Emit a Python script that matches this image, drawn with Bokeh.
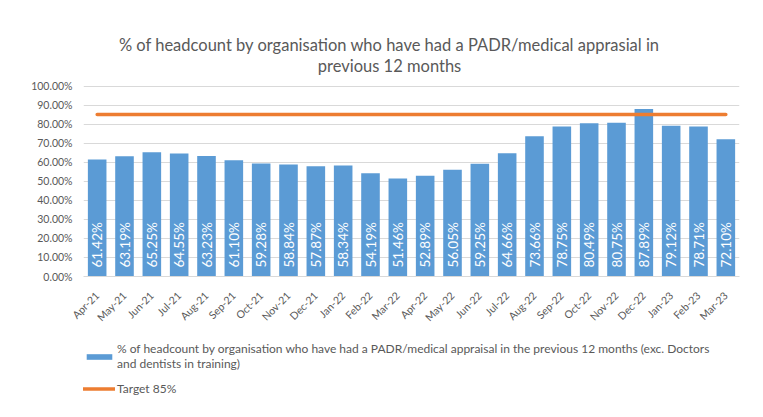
import math
from bokeh.plotting import figure
from bokeh.layouts import column
from bokeh.models import (ColumnDataSource, Range1d, FactorRange,
                          FixedTicker, PrintfTickFormatter, Legend, LegendItem, Label)
from bokeh.core.properties import value
from bokeh.embed import file_html
from bokeh.resources import INLINE

months = ["Apr-21", "May-21", "Jun-21", "Jul-21", "Aug-21", "Sep-21", "Oct-21", "Nov-21",
          "Dec-21", "Jan-22", "Feb-22", "Mar-22", "Apr-22", "May-22", "Jun-22", "Jul-22",
          "Aug-22", "Sep-22", "Oct-22", "Nov-22", "Dec-22", "Jan-23", "Feb-23", "Mar-23"]
appraisal_pct = [61.42, 63.19, 65.25, 64.55, 63.23, 61.10, 59.28, 58.84, 57.87, 58.34, 54.19, 51.46,
                 52.89, 56.05, 59.25, 64.66, 73.66, 78.75, 80.49, 80.75, 87.89, 79.12, 78.71, 72.10]
target_pct = [85] * len(months)
y_ticks = [0, 10, 20, 30, 40, 50, 60, 70, 80, 90, 100]

title_lines = ["% of headcount by organisation who have had a PADR/medical apprasial in",
               "previous 12 months"]
series_name = ("% of headcount by organisation who have had a PADR/medical appraisal in the previous 12 months (exc. Doctors\n"
               "and dentists in training)")
target_name = "Target 85%"

FONT = "Lato"
TXT = "#595959"
BLUE = "#5B9BD5"
ORANGE = "#ED7D31"
GRID = "#D9D9D9"

src = ColumnDataSource(dict(
    month=months,
    pct=appraisal_pct,
    base=[0] * len(months),
    target=target_pct,
    label=[f"{v:.2f}%" for v in appraisal_pct],
))

# ---- main chart: frame reaches the top of the canvas so the title sits inside it ----
p = figure(width=755, height=330, output_backend="svg", toolbar_location=None,
           x_range=FactorRange(*months), y_range=Range1d(0, 144.4),
           min_border_left=83, min_border_right=16,
           min_border_top=1, min_border_bottom=54)
p.x_range.range_padding = 0
p.outline_line_color = None
p.background_fill_color = "white"
p.border_fill_color = "white"

p.yaxis.ticker = FixedTicker(ticks=y_ticks)
p.yaxis.formatter = PrintfTickFormatter(format="%.2f%%")
p.yaxis.axis_line_color = None
p.yaxis.major_tick_line_color = None
p.yaxis.minor_tick_line_color = None
p.yaxis.major_label_standoff = 5
p.yaxis.major_label_text_font = FONT
p.yaxis.major_label_text_font_size = "10.5px"
p.yaxis.major_label_text_color = TXT
p.ygrid.ticker = FixedTicker(ticks=y_ticks)
p.ygrid.grid_line_color = GRID
p.xgrid.grid_line_color = None

p.xaxis.axis_line_color = GRID
p.xaxis.major_tick_line_color = None
p.xaxis.major_label_orientation = math.pi / 4
p.xaxis.major_label_standoff = 11
p.xaxis.major_label_text_font = FONT
p.xaxis.major_label_text_font_size = "10.5px"
p.xaxis.major_label_text_color = TXT

p.vbar(x="month", top="pct", width=0.68, source=src, fill_color=BLUE, line_color=None)
p.text(x="month", y="base", text="label", source=src, angle=math.pi / 2, y_offset=-9,
       text_align="left", text_baseline="middle", text_color="white",
       text_font=value(FONT), text_font_size="13.5px")
p.line(x="month", y="target", source=src, line_color=ORANGE, line_width=3.5, line_cap="round")

for txt, yy in zip(title_lines, [232, 211]):
    p.add_layout(Label(x=306, y=yy, x_units="screen", y_units="screen", text=txt,
                       text_align="center", text_baseline="middle", text_font=FONT,
                       text_font_size="16.5px", text_color=TXT))

# ---- legend strip: same series, drawn outside its visible range, only the legend shows ----
pl = figure(width=755, height=75, output_backend="svg", toolbar_location=None,
            x_range=FactorRange(*months), y_range=Range1d(200, 300),
            x_axis_location=None, y_axis_location=None, min_border=0)
pl.outline_line_color = None
pl.grid.visible = False
pl.background_fill_color = "white"
pl.border_fill_color = "white"
lb = pl.vbar(x="month", top="pct", width=0.68, source=src, fill_color=BLUE, line_color=None)
ll = pl.line(x="month", y="target", source=src, line_color=ORANGE, line_width=3.5, line_cap="round")

legend = Legend(items=[LegendItem(label=series_name, renderers=[lb]),
                       LegendItem(label=target_name, renderers=[ll])],
                location=(0, 9), orientation="vertical",
                label_text_font=FONT, label_text_font_size="12px", label_text_color=TXT,
                label_text_line_height=1.4,
                glyph_width=32, glyph_height=7, label_standoff=2, spacing=10,
                padding=0, margin=0, border_line_color=None, background_fill_alpha=0)
pl.add_layout(legend, "center")

open("out.html", "w").write(file_html(column(p, pl, spacing=0), INLINE))
